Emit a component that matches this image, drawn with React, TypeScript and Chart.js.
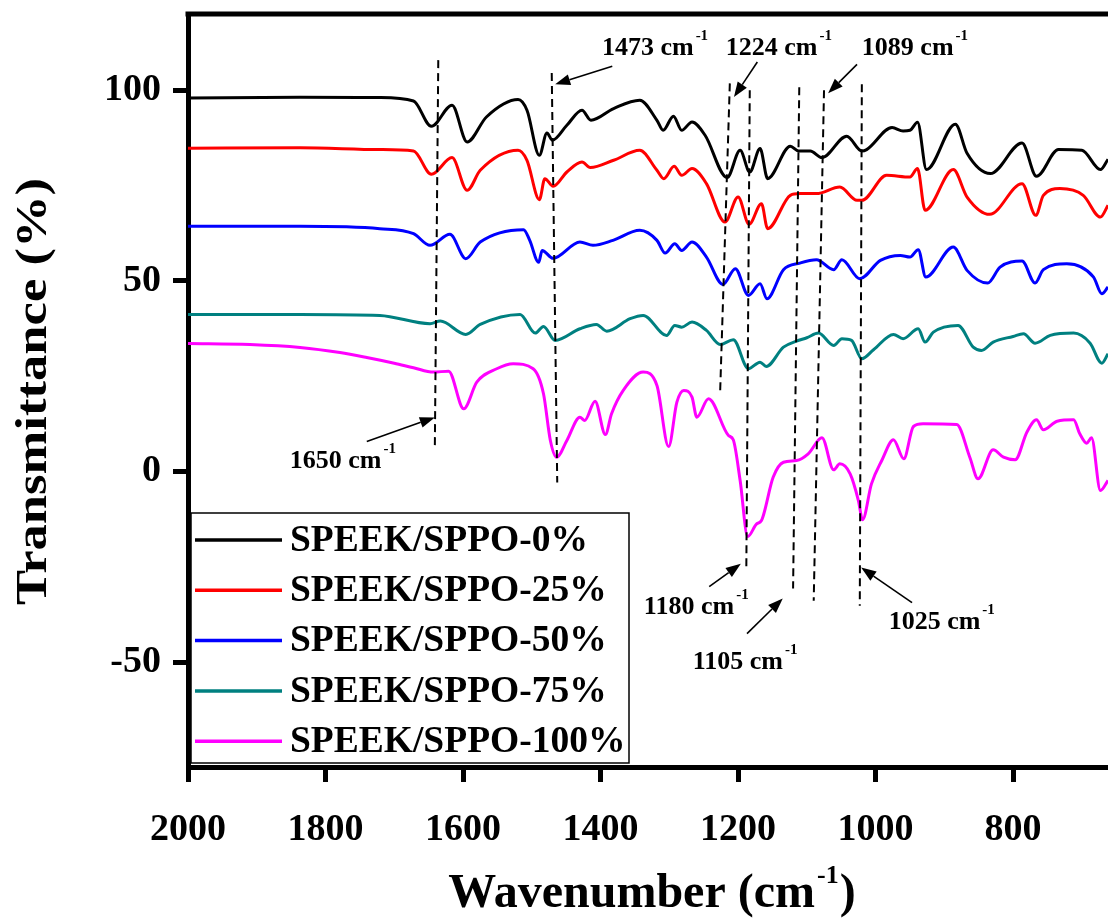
import React, { useEffect, useRef } from 'react';
import { Chart, registerables } from 'chart.js';

Chart.register(...registerables);

const FONT = "'Liberation Serif', 'Times New Roman', serif";

// Series: [wavenumber (cm-1), transmittance (%)]
const seriesLabels = ['SPEEK/SPPO-0%', 'SPEEK/SPPO-25%', 'SPEEK/SPPO-50%', 'SPEEK/SPPO-75%', 'SPEEK/SPPO-100%'];
const seriesColors = ['#000000', '#ff0000', '#0000ff', '#008080', '#ff00ff'];

const speek0 = [
  [2000, 97.98], [1837, 98.16], [1721, 98.08], [1672, 97.19], [1646, 90.55], [1616, 96.06], [1594, 86.43],
  [1566, 92.99], [1520, 97.56], [1507, 94.75], [1489, 82.94], [1478, 88.79], [1470, 86.88], [1449, 90.81],
  [1427, 94.75], [1414, 92.13], [1381, 95.2], [1343, 97.38], [1318, 92.13], [1309, 89.5], [1294, 93.18],
  [1282, 89.5], [1267, 91.68], [1248, 88.19], [1216, 77.09], [1197, 84.25], [1183, 78.56], [1168, 84.7],
  [1157, 76.82], [1124, 85.3], [1112, 84.07], [1095, 84.07], [1078, 82.34], [1042, 87.93], [1020, 84.07],
  [1013, 84.44], [976, 90.21], [960, 89.32], [950, 89.5], [939, 91.6], [926, 79.19], [884, 91.08],
  [867, 83.46], [833, 78.14], [787, 86.17], [766, 77.43], [734, 84.44], [700, 84.25], [673, 79.19], [662, 81.89],
];

const speek25 = [
  [2000, 84.78], [1837, 84.91], [1721, 84.44], [1672, 84.07], [1646, 77.95], [1616, 82.34], [1594, 73.75],
  [1575, 79.0], [1520, 84.25], [1507, 81.63], [1489, 71.31], [1481, 76.82], [1469, 74.8], [1449, 78.56],
  [1427, 81.18], [1415, 79.71], [1381, 81.63], [1343, 84.25], [1318, 79.0], [1308, 76.82], [1293, 80.05],
  [1282, 77.69], [1267, 79.45], [1246, 75.51], [1219, 65.43], [1200, 71.99], [1184, 64.83], [1166, 70.26],
  [1157, 63.7], [1124, 72.44], [1110, 72.89], [1086, 72.89], [1052, 74.62], [1027, 71.13], [1020, 71.13],
  [984, 77.69], [950, 77.24], [939, 79.45], [928, 68.5], [887, 79.19], [867, 72.0], [834, 67.45],
  [787, 75.51], [767, 67.19], [756, 72.44], [732, 74.2], [698, 72.44], [673, 66.75], [662, 69.82],
];

const speek50 = [
  [2000, 64.3], [1837, 64.3], [1721, 63.7], [1672, 62.39], [1648, 59.32], [1619, 62.2], [1596, 55.83],
  [1575, 60.18], [1512, 63.44], [1503, 60.63], [1490, 54.86], [1485, 58.0], [1469, 55.91], [1430, 60.18],
  [1411, 59.32], [1382, 60.63], [1343, 63.25], [1318, 60.63], [1306, 57.3], [1292, 59.76], [1282, 58.0],
  [1267, 60.18], [1246, 56.25], [1222, 49.08], [1204, 53.2], [1185, 46.19], [1168, 49.26], [1158, 45.33],
  [1134, 52.94], [1110, 54.67], [1086, 55.56], [1061, 52.94], [1049, 55.56], [1023, 50.58], [993, 55.38],
  [964, 56.69], [950, 56.25], [938, 58.19], [927, 51.0], [887, 58.87], [867, 52.76], [837, 49.42],
  [819, 53.62], [787, 55.2], [768, 49.42], [756, 52.94], [722, 54.51], [683, 51.0], [671, 46.64], [662, 48.37],
];

const speek75 = [
  [2000, 41.21], [1837, 41.21], [1721, 40.94], [1648, 38.77], [1633, 39.45], [1596, 35.96], [1575, 38.58],
  [1517, 41.21], [1495, 36.3], [1483, 38.06], [1466, 34.38], [1430, 37.45], [1406, 38.58], [1391, 36.82],
  [1357, 40.08], [1338, 40.94], [1304, 35.7], [1292, 38.32], [1282, 37.87], [1267, 39.19], [1246, 37.01],
  [1226, 33.33], [1207, 34.57], [1185, 26.96], [1168, 28.69], [1159, 27.56], [1134, 32.62], [1115, 34.2],
  [1100, 35.09], [1083, 36.3], [1061, 33.07], [1049, 34.83], [1035, 34.38], [1020, 29.58], [1003, 31.94],
  [974, 35.96], [960, 34.83], [938, 37.45], [928, 33.94], [916, 36.56], [880, 38.32], [858, 32.62],
  [846, 31.76], [829, 33.94], [800, 35.43], [785, 36.14], [768, 33.67], [746, 35.7], [712, 36.3],
  [688, 33.67], [671, 28.42], [662, 30.89],
];

const speek100 = [
  [2000, 33.6], [1910, 33.33], [1837, 32.55], [1779, 31.2], [1740, 29.9], [1700, 28.4], [1672, 27.22],
  [1643, 26.07], [1621, 26.33], [1599, 16.46], [1580, 23.44], [1551, 26.96], [1527, 28.27], [1498, 26.96],
  [1483, 20.39], [1473, 8.14], [1464, 3.75], [1449, 8.14], [1430, 14.25], [1423, 13.39], [1408, 18.45],
  [1393, 9.71], [1384, 15.14], [1367, 21.26], [1338, 26.07], [1318, 22.57], [1301, 6.56], [1289, 18.19],
  [1279, 21.26], [1267, 19.5], [1260, 14.25], [1243, 19.08], [1214, 9.45], [1207, 8.32], [1197, -2.36],
  [1186, -17.06], [1173, -13.73], [1166, -12.86], [1149, -1.5], [1134, 2.44], [1115, 2.89], [1098, 4.64],
  [1078, 8.84], [1061, 0.45], [1052, 2.02], [1037, -0.61], [1025, -7.61], [1019, -12.68], [1006, -3.23],
  [991, 2.89], [974, 8.32], [959, 3.33], [945, 11.81], [931, 12.52], [882, 12.34], [863, 3.75],
  [851, -1.92], [829, 5.7], [814, 3.75], [797, 3.07], [780, 10.31], [766, 13.57], [756, 10.94],
  [736, 13.2], [712, 13.57], [703, 9.9], [693, 7.43], [686, 8.84], [673, -4.99], [662, -2.36],
];

const allSeries = [speek0, speek25, speek50, speek75, speek100];

// Axis ticks
const xTickValues = [2000, 1800, 1600, 1400, 1200, 1000, 800];
const yTickValues = [100, 50, 0, -50];
const xMin = 662;
const xMax = 2000;
const yMin = -77.5;
const yMax = 120;

// Peak guide lines: [wn1, T1, wn2, T2]
const peakLines = [
  [1636, 107.9, 1641, 6.6],
  [1471, 104.5, 1463, -2.9],
  [1212, 101.8, 1226, 21.3],
  [1183, 100.0, 1188, -25.2],
  [1111, 100.8, 1120, -30.7],
  [1075, 100.0, 1090, -33.9],
  [1020, 101.6, 1023, -35.2],
];

// Arrows: [tailWn, tailT, headWn, headT]
const arrows = [
  [1740, 7.9, 1641, 14.2],
  [1383, 106.3, 1466, 101.6],
  [1172, 107.4, 1206, 98.2],
  [1027, 106.8, 1069, 99.2],
  [1242, -30.2, 1196, -24.2],
  [1187, -42.5, 1135, -33.3],
  [947, -34.4, 1021, -25.2],
];

// Peak labels: [text, leftWn, baselineT]
const peakLabels: [string, number, number][] = [
  ['1473 cm', 1398, 109.2],
  ['1224 cm', 1218, 109.2],
  ['1089 cm', 1020, 109.2],
  ['1650 cm', 1852, 1.0],
  ['1180 cm', 1337, -37.3],
  ['1105 cm', 1266, -51.7],
  ['1025 cm', 981, -41.3],
];

function drawSupText(ctx: CanvasRenderingContext2D, main: string, sup: string, tail: string, x: number, y: number, mainSize: number, supSize: number, rise: number) {
  ctx.textAlign = 'left';
  ctx.textBaseline = 'alphabetic';
  ctx.font = `bold ${mainSize}px ${FONT}`;
  ctx.fillText(main, x, y);
  let cx = x + ctx.measureText(main).width + 2;
  ctx.font = `bold ${supSize}px ${FONT}`;
  ctx.fillText(sup, cx, y - rise);
  cx += ctx.measureText(sup).width;
  if (tail) {
    ctx.font = `bold ${mainSize}px ${FONT}`;
    ctx.fillText(tail, cx + 1, y);
  }
}

function supWidth(ctx: CanvasRenderingContext2D, main: string, sup: string, tail: string, mainSize: number, supSize: number) {
  ctx.font = `bold ${mainSize}px ${FONT}`;
  let w = ctx.measureText(main).width + 2 + ctx.measureText(tail).width + 1;
  ctx.font = `bold ${supSize}px ${FONT}`;
  w += ctx.measureText(sup).width;
  return w;
}

const decorPlugin = {
  id: 'decor',
  afterDatasetsDraw(chart: any) {
    const { ctx, chartArea, scales } = chart;
    const xs = scales.x;
    const ys = scales.y;
    const px = (v: number) => xs.getPixelForValue(v);
    const py = (v: number) => ys.getPixelForValue(v);
    ctx.save();

    // top frame line
    ctx.strokeStyle = '#000';
    ctx.lineWidth = 5;
    ctx.beginPath();
    ctx.moveTo(chartArea.left - 2.5, chartArea.top);
    ctx.lineTo(chartArea.right + 5, chartArea.top);
    ctx.stroke();

    // dashed guide lines
    ctx.lineWidth = 2;
    ctx.setLineDash([8, 5]);
    for (const [a, b, c, d] of peakLines) {
      ctx.beginPath();
      ctx.moveTo(px(a), py(b));
      ctx.lineTo(px(c), py(d));
      ctx.stroke();
    }
    ctx.setLineDash([]);

    // arrows
    ctx.fillStyle = '#000';
    ctx.lineWidth = 1.6;
    for (const [a, b, c, d] of arrows) {
      const x1 = px(a), y1 = py(b), x2 = px(c), y2 = py(d);
      const ang = Math.atan2(y2 - y1, x2 - x1);
      const hl = 15, hw = 5.5;
      const bx = x2 - hl * Math.cos(ang), by = y2 - hl * Math.sin(ang);
      ctx.beginPath();
      ctx.moveTo(x1, y1);
      ctx.lineTo(bx, by);
      ctx.stroke();
      ctx.beginPath();
      ctx.moveTo(x2, y2);
      ctx.lineTo(bx + hw * Math.sin(ang), by - hw * Math.cos(ang));
      ctx.lineTo(bx - hw * Math.sin(ang), by + hw * Math.cos(ang));
      ctx.closePath();
      ctx.fill();
    }

    // peak labels
    for (const [t, w, v] of peakLabels) {
      drawSupText(ctx, t, '-1', '', px(w), py(v), 26, 15, 15);
    }

    // legend box
    const bx = chartArea.left + 3;
    const bw = 438;
    const bh = 250;
    const by = chartArea.bottom - 4 - bh;
    ctx.fillStyle = '#fff';
    ctx.fillRect(bx, by, bw, bh);
    ctx.strokeStyle = '#000';
    ctx.lineWidth = 1.5;
    ctx.strokeRect(bx, by, bw, bh);
    chart.data.datasets.forEach((ds: any, i: number) => {
      const ry = by + 27 + i * 50.3;
      ctx.strokeStyle = ds.borderColor;
      ctx.lineWidth = 3.5;
      ctx.beginPath();
      ctx.moveTo(bx + 4, ry);
      ctx.lineTo(bx + 91, ry);
      ctx.stroke();
      ctx.fillStyle = '#000';
      ctx.font = `bold 37.5px ${FONT}`;
      ctx.textAlign = 'left';
      ctx.textBaseline = 'middle';
      ctx.fillText(ds.label, bx + 99, ry + 1);
    });

    ctx.restore();
  },
  afterDraw(chart: any) {
    const { ctx, chartArea } = chart;
    ctx.save();
    ctx.fillStyle = '#000';
    // y title (stretched along its length to match the reference)
    ctx.translate(34, (chartArea.top + chartArea.bottom) / 2 + 1);
    ctx.rotate(-Math.PI / 2);
    ctx.font = `bold 45px ${FONT}`;
    ctx.textAlign = 'center';
    ctx.textBaseline = 'middle';
    const tw = ctx.measureText('Transmittance (%)').width;
    ctx.scale(427 / tw, 1);
    ctx.fillText('Transmittance (%)', 0, 0);
    ctx.restore();

    // x title
    ctx.save();
    ctx.fillStyle = '#000';
    const w = supWidth(ctx, 'Wavenumber (cm', '-1', ')', 48, 26);
    const cx = 652;
    drawSupText(ctx, 'Wavenumber (cm', '-1', ')', cx - w / 2, 907, 48, 26, 24);
    ctx.restore();
  },
};

export default function App() {
  const ref = useRef<HTMLCanvasElement>(null);
  useEffect(() => {
    if (!ref.current) return;
    const tickFont = { family: FONT, size: 38, weight: 'bold' as const };
    const chart = new Chart(ref.current, {
      type: 'line',
      data: {
        datasets: allSeries.map((s, i) => ({
          label: seriesLabels[i],
          data: s.map(([x, y]) => ({ x, y })),
          borderColor: seriesColors[i],
          backgroundColor: seriesColors[i],
          borderWidth: 3,
          pointRadius: 0,
          fill: false,
          cubicInterpolationMode: 'monotone' as const,
        })),
      },
      options: {
        animation: false,
        responsive: false,
        events: [],
        layout: { padding: { top: 14, left: 0, right: 0, bottom: 0 } },
        plugins: { legend: { display: false }, tooltip: { enabled: false } },
        scales: {
          x: {
            type: 'linear',
            reverse: true,
            min: xMin,
            max: xMax,
            afterBuildTicks: (s: any) => { s.ticks = xTickValues.map((v) => ({ value: v })); },
            afterFit: (s: any) => {
              s.height = 151;
              s.paddingLeft = 0; s.paddingRight = 0; s.paddingTop = 0; s.paddingBottom = 0;
            },
            border: { display: true, color: '#000', width: 5 },
            grid: { drawOnChartArea: false, drawTicks: true, tickLength: 15, tickWidth: 5, tickColor: '#000', color: '#000' },
            ticks: { font: tickFont, color: '#000', padding: 25, maxRotation: 0, autoSkip: false, callback: (v: any) => String(v) },
          },
          y: {
            type: 'linear',
            min: yMin,
            max: yMax,
            afterBuildTicks: (s: any) => { s.ticks = yTickValues.map((v) => ({ value: v })); },
            afterFit: (s: any) => {
              s.width = 188;
              s.paddingLeft = 0; s.paddingRight = 0; s.paddingTop = 0; s.paddingBottom = 0;
            },
            border: { display: true, color: '#000', width: 5 },
            grid: { drawOnChartArea: false, drawTicks: true, tickLength: 15, tickWidth: 5, tickColor: '#000', color: '#000' },
            ticks: { font: tickFont, color: '#000', padding: 12, autoSkip: false, callback: (v: any) => String(v) },
          },
        },
      },
      plugins: [decorPlugin],
    });
    return () => chart.destroy();
  }, []);
  return (
    <div style={{ position: 'fixed', left: 0, top: 0, width: 1108, height: 918, background: '#fff', overflow: 'hidden' }}>
      <canvas ref={ref} width={1108} height={918} style={{ width: 1108, height: 918, display: 'block' }} />
    </div>
  );
}
